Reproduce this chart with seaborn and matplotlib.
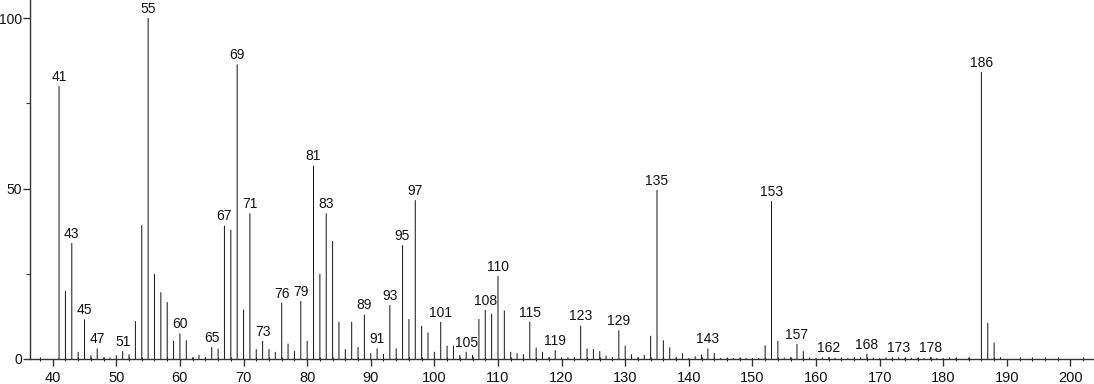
import matplotlib
matplotlib.use("Agg")
import matplotlib.pyplot as plt
from matplotlib.ticker import MultipleLocator, FixedLocator
import seaborn as sns
import pandas as pd

# ---- data (m/z and relative intensity) ----
mz = [41, 42, 43, 44, 45, 46, 47, 48, 49, 50,
      51, 52, 53, 54, 55, 56, 57, 58, 59, 60,
      61, 62, 63, 64, 65, 66, 67, 68, 69, 70,
      71, 72, 73, 74, 75, 76, 77, 78, 79, 80,
      81, 82, 83, 84, 85, 86, 87, 88, 89, 90,
      91, 92, 93, 94, 95, 96, 97, 98, 99, 100,
      101, 102, 103, 104, 105, 106, 107, 108, 109, 110,
      111, 112, 113, 114, 115, 116, 117, 118, 119, 120,
      121, 122, 123, 124, 125, 126, 127, 128, 129, 130,
      131, 132, 133, 134, 135, 136, 137, 138, 139, 140,
      141, 142, 143, 144, 145, 146, 147, 148, 149, 150,
      151, 152, 153, 154, 155, 156, 157, 158, 159, 160,
      161, 162, 163, 164, 165, 166, 167, 168, 169, 170,
      171, 172, 173, 174, 175, 176, 177, 178, 179, 180,
      181, 182, 184, 186, 187, 188, 189]
intensity = [80.0, 20.0, 34.0, 2.1, 11.6, 1.1, 3.1, 0.4, 0.4, 1.1,
             2.3, 1.4, 11.1, 39.2, 100.0, 24.9, 19.6, 16.7, 5.3, 7.5,
             5.5, 0.5, 1.2, 0.5, 3.5, 3.0, 39.1, 37.9, 86.4, 14.5,
             42.7, 2.9, 5.3, 2.9, 2.1, 16.5, 4.5, 2.4, 17.0, 5.3,
             56.7, 24.9, 42.7, 34.6, 10.9, 2.9, 10.9, 3.5, 13.0, 1.7,
             3.1, 1.5, 15.8, 3.1, 33.4, 11.7, 46.6, 9.7, 7.8, 2.1,
             10.9, 3.9, 3.9, 1.2, 2.1, 1.2, 11.7, 14.4, 13.3, 24.3,
             14.2, 2.1, 1.7, 1.4, 10.9, 3.3, 2.1, 0.5, 2.6, 0.5,
             0.5, 0.5, 9.8, 3.1, 2.9, 2.3, 1.0, 0.5, 8.4, 3.9,
             1.4, 0.5, 1.2, 6.8, 49.6, 5.5, 3.4, 0.5, 1.7, 0.3,
             0.8, 1.3, 3.1, 1.7, 0.3, 0.3, 0.3, 0.3, 0.3, 0.3,
             0.3, 4.0, 46.3, 5.3, 0.4, 0.5, 4.4, 2.3, 0.4, 0.3,
             0.4, 0.6, 0.3, 0.3, 0.3, 0.4, 0.5, 1.5, 0.4, 0.3,
             0.4, 0.3, 0.5, 0.3, 0.3, 0.3, 0.3, 0.5, 0.3, 0.3,
             0.4, 0.3, 0.4, 84.2, 10.6, 4.8, 0.5]

labelled = [41, 43, 45, 47, 51, 55, 60, 65, 67, 69, 71, 73, 76, 79, 81, 83,
            89, 91, 93, 95, 97, 101, 105, 108, 110, 115, 119, 123, 129, 135,
            143, 153, 157, 162, 168, 173, 178, 186]

x_major = [40, 50, 60, 70, 80, 90, 100, 110, 120, 130, 140, 150, 160, 170, 180, 190, 200]
y_major = [0, 50, 100]

df = pd.DataFrame({"mz": mz, "intensity": intensity})

sns.set_theme(style="white")
plt.rcParams["font.family"] = ["Liberation Sans", "DejaVu Sans"]

fig = plt.figure(figsize=(10.94, 3.84), dpi=100)
ax = fig.add_axes([30 / 1094, 25 / 384, 1064 / 1094, 359 / 384])

line_col = "#1a1a1a"
sns.barplot(data=df, x="mz", y="intensity", native_scale=True, width=0.16,
            color=line_col, linewidth=0, saturation=1, ax=ax)
for p in ax.patches:
    p.set_snap(False)

for m, v in zip(mz, intensity):
    if m in labelled:
        ax.annotate(str(m), (m, v), xytext=(0, 1.6), textcoords="offset points",
                    ha="center", va="bottom", fontsize=10, color="#111111")

ax.set_xlim(36.43, 203.7)
ax.set_ylim(0, 105.3)
ax.xaxis.set_major_locator(FixedLocator(x_major))
ax.xaxis.set_minor_locator(MultipleLocator(2))
ax.yaxis.set_major_locator(FixedLocator(y_major))
ax.yaxis.set_minor_locator(FixedLocator([25, 75]))
ax.set_xticklabels([str(t) for t in x_major])
ax.set_yticklabels([str(t) for t in y_major])

for s in ["top", "right"]:
    ax.spines[s].set_visible(False)
for s in ["left", "bottom"]:
    ax.spines[s].set_color("#333333")
    ax.spines[s].set_linewidth(1.0)

ax.tick_params(axis="x", which="major", direction="out", length=4.7, width=1,
               color="#333333", labelsize=10.5, pad=4.0, bottom=True, labelcolor="#111111")
ax.tick_params(axis="x", which="minor", direction="inout", length=3, width=0.8,
               color="#333333", bottom=True)
ax.tick_params(axis="y", which="major", direction="out", length=5, width=1,
               color="#333333", labelsize=10, pad=0.8, left=True, labelcolor="#111111")
ax.tick_params(axis="y", which="minor", direction="out", length=3, width=0.8,
               color="#333333", left=True)
ax.set_xlabel("")
ax.set_ylabel("")
ax.grid(False)
ax.patch.set_alpha(0)

fig.savefig("out.png", dpi=100, facecolor="white")
